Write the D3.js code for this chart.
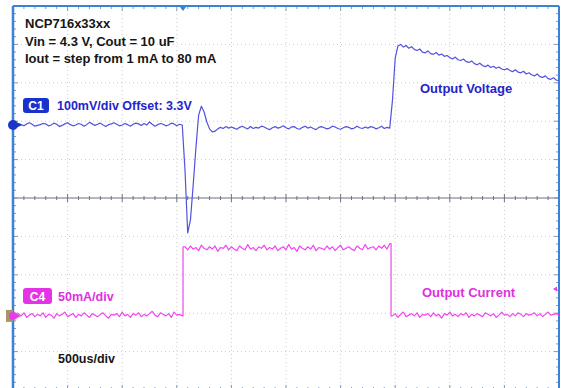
<!DOCTYPE html>
<html>
<head>
<meta charset="utf-8">
<script src="https://cdn.jsdelivr.net/npm/d3@7"></script>
<style>
    body { margin: 0; background: #fff; }
    svg { display: block; }
    text { font-family: 'Liberation Sans', Arial, sans-serif; font-weight: bold; }
</style>
</head>
<body>
<svg width="563" height="388"></svg>
<script>
(function (d3) {
    'use strict';

    // scope setup: 500us/div, 10 divisions each way
    const timeDomainUs = [0, 5000];
    const divRange = [-5, 5];
    const c1OffsetDiv = 1.9;     // C1 ground marker, in divisions from center
    const c4OffsetDiv = -3.07;   // C4 ground marker
    const c1MvPerDiv = 100;
    const c4MaPerDiv = 50;
    const trigTimeUs = 1557;

    const titleLines = ['NCP716x33xx', 'Vin = 4.3 V, Cout = 10 uF', 'Iout = step from 1 mA to 80 mA'];

    // C1, output voltage deviation from 3.3V in mV, one sample every 25us
    const voltageMv = [
        2, 0, 4, 1, -2, 3, 6, 2, -3, -1,
        1, 4, 3, -2, 0, 5, 2, -4, -1, 3,
        6, 1, -2, 0, 4, 2, -3, 1, 7, 3,
        -1, 2, 5, 0, -4, 1, 3, 6, 2, -2,
        0, 4, 1, -3, 2, 5, 3, -1, 4, 0,
        8, 2, -3, 1, 4, 2, -2, 0, 5, 3,
        -2, 2, 0, -117, -281, -247, -156, -60, 26, 49,
        34, 8, -10, -18, -16, -10, -6, -9, -4, -8,
        -5, -8, -11, -6, -3, -7, -10, -4, -9, -6,
        -8, -3, -5, -9, -12, -7, -4, -8, -6, -2,
        -7, -10, -5, -4, -9, -11, -6, -3, -8, -5,
        -9, -12, -6, -4, -7, -10, -8, -3, -5, -9,
        -11, -7, -4, -6, -10, -8, -3, -7, -9, -5,
        -8, -4, -6, -10, -7, -3, -9, -6, -8, 65,
        174, 206, 210, 203, 207, 200, 204, 197, 194, 198,
        190, 188, 193, 186, 184, 189, 182, 185, 179, 181,
        176, 172, 177, 170, 168, 172, 165, 163, 167, 160,
        157, 161, 155, 152, 156, 150, 153, 148, 151, 146,
        144, 147, 142, 139, 144, 138, 136, 140, 133, 136,
        131, 128, 133, 126, 124, 128, 121, 119, 123, 117,
        116
    ];

    // C4, load current in mA; step edges and 25us samples between them
    const currentEdgesUs = [1557, 3462];
    const currentBeforeMa = [
        2, -1, 3, 0, 4, -2, 1, 3, -1, 2,
        0, 4, -2, 2, 1, -3, 3, 0, 2, 5,
        -1, 1, 3, -2, 2, 0, 4, 1, -2, 3,
        1, -1, 2, 4, 0, -3, 2, 1, 3, -1,
        5, 0, 2, -2, 3, 1, 4, -1, 2, 0,
        3, 6, 1, -1, 4, 2, 0, 3, -2, 5,
        1, 2, 0
    ];
    const currentHighMa = [
        90, 86, 91, 87, 89, 85, 92, 88, 86, 90,
        87, 91, 84, 89, 88, 92, 86, 90, 87, 85,
        91, 88, 86, 93, 87, 89, 85, 90, 88, 92,
        86, 89, 87, 91, 85, 88, 90, 86, 93, 87,
        89, 84, 91, 88, 86, 90, 87, 92, 85, 89,
        88, 86, 91, 87, 90, 85, 89, 92, 86, 88,
        90, 87, 85, 91, 88, 86, 93, 87, 89, 90,
        86, 91, 88, 92, 87, 94
    ];
    const currentAfterMa = [
        0, 3, -2, 2, 5, -1, 1, 3, 0, 4,
        -2, 2, 1, 3, -1, 4, 0, 2, -3, 3,
        1, 5, 0, 2, -1, 3, 1, 4, -2, 2,
        0, 3, 1, -1, 4, 2, 0, 3, -2, 1,
        5, 1, 2, -1, 3, 0, 4, 2, -1, 3,
        1, 2, 4, 0, 3, -1, 2, 5, 1, 2,
        3, 1
    ];

    const svg = d3.select('svg');

    const x = d3.scaleLinear().domain(timeDomainUs).range([13, 559]);
    const y = d3.scaleLinear().domain(divRange).range([390, 6]);
    const usPerDiv = 500;
    const yVolt = v => y(c1OffsetDiv + v / c1MvPerDiv);
    const yCurr = i => y(c4OffsetDiv + i / c4MaPerDiv);

    const gridColor = '#cacace';
    const borderBlue = '#3a82d8';

    // dotted graticule
    const grid = svg.append('g');
    const divX = d3.range(1, 10).map(d => timeDomainUs[0] + d * usPerDiv);
    const divY = d3.range(-4, 5).filter(d => d !== 0);

    grid.selectAll('line.vx').data(divX).enter().append('line')
        .attr('x1', d => x(d)).attr('x2', d => x(d))
        .attr('y1', y(5)).attr('y2', y(-5))
        .attr('stroke', gridColor).attr('stroke-dasharray', '1,3');
    grid.selectAll('line.hy').data(divY).enter().append('line')
        .attr('x1', x(0)).attr('x2', x(5000))
        .attr('y1', d => y(d)).attr('y2', d => y(d))
        .attr('stroke', gridColor).attr('stroke-dasharray', '1,3');

    // center axis with ticks
    grid.append('line')
        .attr('x1', x(0)).attr('x2', x(5000))
        .attr('y1', y(0)).attr('y2', y(0))
        .attr('stroke', '#6c7480').attr('stroke-width', 1);

    const minorX = d3.range(0, 50).map(d => d * usPerDiv / 5);
    const minorY = d3.range(-25, 25).map(d => d / 5);

    grid.selectAll('line.cx').data(minorX).enter().append('line')
        .attr('x1', d => x(d)).attr('x2', d => x(d))
        .attr('y1', d => y(0) - (d % usPerDiv === 0 ? 4 : 2))
        .attr('y2', d => y(0) + (d % usPerDiv === 0 ? 4 : 2))
        .attr('stroke', '#6c7480');

    // edge ticks
    const edgeTick = '#8a9aae';
    grid.selectAll('line.tt').data(minorX).enter().append('line')
        .attr('x1', d => x(d)).attr('x2', d => x(d))
        .attr('y1', y(5)).attr('y2', d => y(5) + (d % usPerDiv === 0 ? 5 : 3))
        .attr('stroke', edgeTick);
    grid.selectAll('line.bt').data(minorX).enter().append('line')
        .attr('x1', d => x(d)).attr('x2', d => x(d))
        .attr('y1', y(-5)).attr('y2', d => y(-5) - (d % usPerDiv === 0 ? 5 : 3))
        .attr('stroke', edgeTick);
    grid.selectAll('line.lt').data(minorY).enter().append('line')
        .attr('x1', x(0)).attr('x2', d => x(0) + (Math.abs(d % 1) < 1e-9 ? 5 : 3))
        .attr('y1', d => y(d)).attr('y2', d => y(d))
        .attr('stroke', edgeTick);
    grid.selectAll('line.rt').data(minorY).enter().append('line')
        .attr('x1', x(5000)).attr('x2', d => x(5000) - (Math.abs(d % 1) < 1e-9 ? 5 : 3))
        .attr('y1', d => y(d)).attr('y2', d => y(d))
        .attr('stroke', edgeTick);

    // frame
    svg.append('line').attr('x1', x(0)).attr('x2', x(5000)).attr('y1', y(5)).attr('y2', y(5))
        .attr('stroke', borderBlue).attr('stroke-width', 2);
    svg.append('line').attr('x1', x(0)).attr('x2', x(0)).attr('y1', y(5)).attr('y2', 388)
        .attr('stroke', borderBlue).attr('stroke-width', 2.5);
    svg.append('line').attr('x1', x(5000)).attr('x2', x(5000)).attr('y1', y(5)).attr('y2', 388)
        .attr('stroke', borderBlue).attr('stroke-width', 2);

    // traces
    const voltPts = voltageMv.map((v, i) => [i * 25, v]);

    const currPts = [].concat(
        currentBeforeMa.map((v, i) => [i * 25, v]),
        [[currentEdgesUs[0], currentBeforeMa[currentBeforeMa.length - 1]],
         [currentEdgesUs[0], currentHighMa[0]]],
        currentHighMa.map((v, i) => [1575 + i * 25, v]),
        [[currentEdgesUs[1], currentHighMa[currentHighMa.length - 1]],
         [currentEdgesUs[1], currentAfterMa[0]]],
        currentAfterMa.map((v, i) => [3475 + i * 25, v])
    );

    svg.append('path')
        .attr('d', d3.line().x(d => x(d[0])).y(d => yVolt(d[1]))(voltPts))
        .attr('fill', 'none')
        .attr('stroke', '#5252e0')
        .attr('stroke-width', 1.2)
        .attr('stroke-linejoin', 'round');

    svg.append('path')
        .attr('d', d3.line().x(d => x(d[0])).y(d => yCurr(d[1]))(currPts))
        .attr('fill', 'none')
        .attr('stroke', '#f046f0')
        .attr('stroke-width', 1.2)
        .attr('stroke-linejoin', 'round');

    // trigger position marker at top
    svg.append('path')
        .attr('d', `M${x(trigTimeUs) - 3},${y(5) + 1} L${x(trigTimeUs) + 3},${y(5) + 1} L${x(trigTimeUs)},${y(5) + 5} Z`)
        .attr('fill', '#2a8ad0');

    // channel ground markers
    const c1y = y(c1OffsetDiv);
    svg.append('circle').attr('cx', x(0)).attr('cy', c1y).attr('r', 5).attr('fill', '#1a36c8');
    svg.append('path').attr('d', `M${x(0) + 4},${c1y - 2.5} L${x(0) + 9},${c1y} L${x(0) + 4},${c1y + 2.5} Z`)
        .attr('fill', '#1a36c8');

    const c4y = y(c4OffsetDiv);
    svg.append('rect').attr('x', x(0) - 7).attr('y', c4y - 6).attr('width', 7).attr('height', 12)
        .attr('fill', '#a8956a');
    svg.append('circle').attr('cx', x(0)).attr('cy', c4y).attr('r', 4).attr('fill', '#e83ce8');
    svg.append('path').attr('d', `M${x(0) + 3},${c4y - 2.5} L${x(0) + 8},${c4y} L${x(0) + 3},${c4y + 2.5} Z`)
        .attr('fill', '#e83ce8');

    // trigger level marker, right edge
    const trigY = 289;
    svg.append('path').attr('d', `M${x(5000) - 2},${trigY - 2.5} L${x(5000) - 6},${trigY} L${x(5000) - 2},${trigY + 2.5} Z`)
        .attr('fill', '#e83ce8');

    // annotations
    svg.selectAll('text.title').data(titleLines).enter().append('text')
        .attr('x', 25)
        .attr('y', (d, i) => 28 + i * 17.5)
        .attr('font-size', 13)
        .attr('fill', '#161616')
        .text(d => d);

    svg.append('rect').attr('x', 23).attr('y', 98).attr('width', 26).attr('height', 15).attr('rx', 3)
        .attr('fill', '#1a32cc');
    svg.append('text').attr('x', 36).attr('y', 110).attr('text-anchor', 'middle')
        .attr('font-size', 12).attr('fill', '#fff').text('C1');
    svg.append('text').attr('x', 57).attr('y', 110)
        .attr('font-size', 12.5).attr('fill', '#2424cc').text('100mV/div Offset: 3.3V');

    svg.append('rect').attr('x', 23).attr('y', 288).attr('width', 29).attr('height', 16).attr('rx', 3)
        .attr('fill', '#e632e6');
    svg.append('text').attr('x', 37.5).attr('y', 300.5).attr('text-anchor', 'middle')
        .attr('font-size', 12).attr('fill', '#fff').text('C4');
    svg.append('text').attr('x', 58).attr('y', 300.5)
        .attr('font-size', 12.5).attr('fill', '#e030e0').text('50mA/div');

    svg.append('text').attr('x', 58).attr('y', 363)
        .attr('font-size', 12.5).attr('fill', '#161616').text('500us/div');

    svg.append('text').attr('x', 420).attr('y', 93)
        .attr('font-size', 13).attr('fill', '#2424c8').text('Output Voltage');
    svg.append('text').attr('x', 422).attr('y', 297)
        .attr('font-size', 13).attr('fill', '#e030e0').text('Output Current');

}(d3));
</script>
</body>
</html>
